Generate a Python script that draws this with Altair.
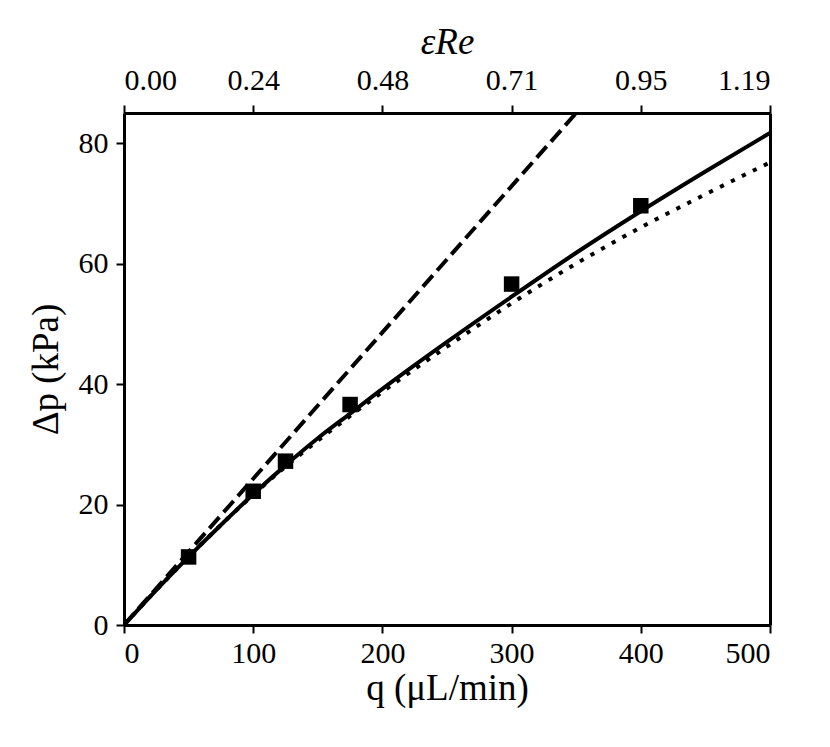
import json
import altair as alt
import pandas as pd

# ---- data ----
exp_q = [50, 100, 125, 175, 300, 400]
exp_dp = [11.3, 22.2, 27.2, 36.6, 56.6, 69.6]

solid_q = [0, 25, 50, 75, 100, 125, 150, 175, 200, 250, 300, 350, 400, 450, 500]
solid_dp = [0, 5.8, 11.3, 16.6, 21.7, 26.5, 31.0, 35.1, 39.2, 47.0, 54.5, 61.8, 68.7, 75.3, 81.7]

dotted_q = [0, 25, 50, 75, 100, 125, 150, 175, 200, 250, 300, 350, 400, 450, 500]
dotted_dp = [0, 5.8, 11.3, 16.6, 21.6, 26.3, 30.6, 34.7, 38.7, 46.2, 53.4, 60.0, 66.0, 71.5, 76.8]

dashed_q = [0, 350]
dashed_dp = [0, 85]

x_ticks = [0, 100, 200, 300, 400, 500]
top_labels = ["0.00", "0.24", "0.48", "0.71", "0.95", "1.19"]
y_ticks = [0, 20, 40, 60, 80]

FONT = "Liberation Serif"

df_exp = pd.DataFrame({"q": exp_q, "dp": exp_dp})
df_solid = pd.DataFrame({"q": solid_q, "dp": solid_dp})
df_dot = pd.DataFrame({"q": dotted_q, "dp": dotted_dp})
df_dash = pd.DataFrame({"q": dashed_q, "dp": dashed_dp})

xscale = alt.Scale(domain=[0, 500], nice=False, zero=False)
yscale = alt.Scale(domain=[0, 85], nice=False, zero=False)

axis_common = dict(
    labelFont=FONT, titleFont=FONT, labelColor="black", titleColor="black",
    labelFontSize=30, titleFontSize=37, titleFontWeight="normal",
    tickColor="black", tickWidth=2, tickSize=8, grid=False,
    domain=True, domainColor="black", domainWidth=3,
)

bottom_axis = alt.Axis(values=x_ticks, orient="bottom", title="q (μL/min)",
                       labelPadding=5, titlePadding=2, **axis_common)
label_expr = "%s[round(datum.value/100)]" % json.dumps(top_labels)
top_axis = alt.Axis(values=x_ticks, orient="top", title="εRe", labelExpr=label_expr,
                    labelPadding=10, titlePadding=4, titleFontStyle="italic", **axis_common)
left_axis = alt.Axis(values=y_ticks, orient="left", title="Δp (kPa)",
                     labelPadding=8, titlePadding=13, **axis_common)
right_axis = alt.Axis(orient="right", labels=False, ticks=False, title=None, grid=False,
                      domain=True, domainColor="black", domainWidth=3)

dash = alt.Chart(df_dash).mark_line(color="black", strokeWidth=4, strokeDash=[15, 6.5],
                                    strokeCap="butt", clip=True).encode(
    x=alt.X("q:Q", scale=xscale, axis=bottom_axis),
    y=alt.Y("dp:Q", scale=yscale, axis=left_axis),
)
solid = alt.Chart(df_solid).mark_line(color="black", strokeWidth=4, interpolate="monotone",
                                      clip=True).encode(
    x=alt.X("q:Q", scale=xscale, axis=None),
    y=alt.Y("dp:Q", scale=yscale, axis=right_axis),
)
dotted = alt.Chart(df_dot).mark_line(color="black", strokeWidth=4, strokeDash=[4.2, 8],
                                     strokeCap="butt", interpolate="monotone", clip=True).encode(
    x=alt.X("q:Q", scale=xscale, axis=None),
    y=alt.Y("dp:Q", scale=yscale, axis=None),
)
pts = alt.Chart(df_exp).mark_square(color="black", size=240, opacity=1, filled=True).encode(
    x=alt.X("q:Q", scale=xscale, axis=top_axis),
    y=alt.Y("dp:Q", scale=yscale, axis=None),
)

chart = (
    alt.layer(dash, solid, dotted, pts)
    .resolve_axis(x="independent", y="independent")
    .properties(
        width=646, height=512,
        autosize=alt.AutoSizeParams(type="none"),
        padding={"left": 116, "top": 105, "right": 50, "bottom": 110},
    )
    .configure_view(stroke=None)
    .configure(background="white")
)

chart.save("out.html", embed_options={"renderer": "svg", "actions": False})
